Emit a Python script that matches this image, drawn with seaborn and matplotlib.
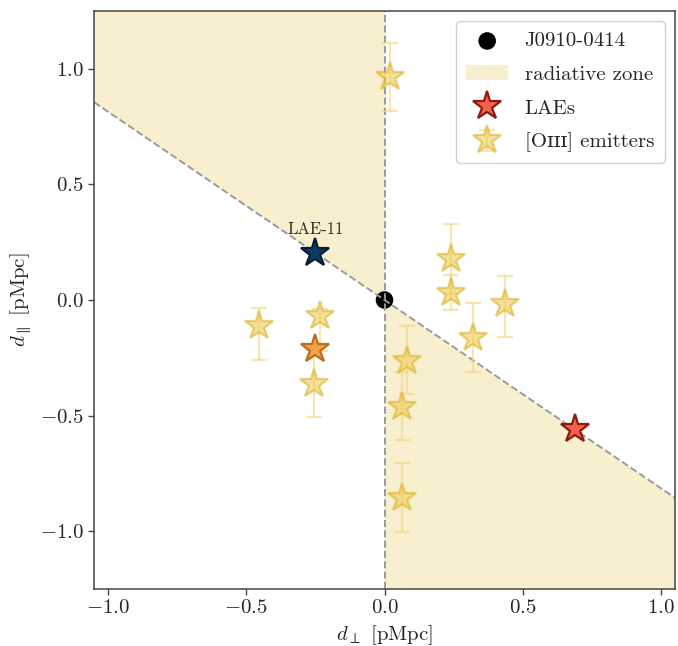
import matplotlib
matplotlib.use("Agg")
import matplotlib.pyplot as plt
import seaborn as sns
import numpy as np
import pandas as pd

# [OIII] emitters: projected offsets (pMpc) and line-of-sight errors
oiii_x = [0.021, -0.455, -0.232, -0.256, 0.24, 0.24, 0.434, 0.32, 0.082, 0.065, 0.065]
oiii_y = [0.964, -0.113, -0.07, -0.365, 0.176, 0.032, -0.016, -0.166, -0.264, -0.463, -0.858]
oiii_err_lo = [0.145, 0.146, 0.15, 0.143, 0.15, 0.074, 0.144, 0.145, 0.142, 0.144, 0.145]
oiii_err_hi = [0.147, 0.078, 0.03, 0.15, 0.153, 0.075, 0.121, 0.151, 0.151, 0.15, 0.153]

# LAEs
lae_x = [-0.25, -0.25, 0.69]
lae_y = [0.204, -0.213, -0.56]
lae_face = ["#0d3b66", "#f4a04a", "#f4604a"]
lae_edge = ["#061d33", "#b8701c", "#8c1c10"]
lae_names = ["LAE-11", "", ""]

qso_name = "J0910-0414"
oiii_name = "[O\u026a\u026a\u026a] emitters"
slope = -0.815

sns.set_style("ticks")
plt.rcParams["font.family"] = ["cmr10", "DejaVu Serif"]
plt.rcParams["mathtext.fontset"] = "cm"
plt.rcParams["axes.formatter.use_mathtext"] = True
plt.rcParams["axes.unicode_minus"] = True

fig = plt.figure(figsize=(6.78, 6.46), dpi=100)
ax = fig.add_axes([94 / 678, 57 / 646, 581 / 678, 578 / 646])

xlim = (-1.05, 1.05)
ylim = (-1.25, 1.25)

# radiative zone
xl = np.array([xlim[0], 0.0])
xr = np.array([0.0, xlim[1]])
ax.fill_between(xl, slope * xl, ylim[1], color="#ecd278", alpha=0.35, lw=0, zorder=0,
                label="radiative zone")
ax.fill_between(xr, ylim[0], slope * xr, color="#ecd278", alpha=0.35, lw=0, zorder=0)

# quasar (below the dashed lines)
sns.scatterplot(x=[0.0], y=[0.0], color="black", s=160, edgecolor="none", zorder=1,
                label=qso_name, ax=ax)

xx = np.array(xlim)
ax.plot(xx, slope * xx, ls="--", color="#9a9a9a", lw=1.4, zorder=2)
ax.axvline(0, ls="--", color="#9a9a9a", lw=1.4, zorder=2)

# [OIII] emitters
ax.errorbar(oiii_x, oiii_y, yerr=[oiii_err_lo, oiii_err_hi], fmt="*", ms=21, mfc="#efcc58",
            mec="#dcb32c", mew=1.6, ecolor="#f2d67a", elinewidth=1.6, capsize=6,
            capthick=1.6, alpha=0.6, zorder=3, label=oiii_name)

# LAEs
lae_df = pd.DataFrame({"x": lae_x, "y": lae_y})
for i in range(len(lae_x)):
    ax.plot(lae_df.x[i], lae_df.y[i], marker="*", ms=21, mfc=lae_face[i], mec=lae_edge[i],
            mew=1.6, ls="none", zorder=4)
    if lae_names[i]:
        ax.text(lae_df.x[i], lae_df.y[i] + 0.07, lae_names[i], ha="center", va="bottom",
                fontsize=12, zorder=5)
ax.plot([], [], marker="*", ms=21, mfc="#f4604a", mec="#8c1c10", mew=1.6,
        ls="none", label="LAEs")

ax.set_xlim(*xlim)
ax.set_ylim(*ylim)
ax.set_xticks([-1.0, -0.5, 0.0, 0.5, 1.0])
ax.set_yticks([-1.0, -0.5, 0.0, 0.5, 1.0])
ax.set_xlabel(r"$d_\perp$ [pMpc]", fontsize=15)
ax.set_ylabel(r"$d_\parallel$ [pMpc]", fontsize=15)
ax.tick_params(labelsize=15, direction="out", length=4, width=1, color="#444444")
for sp in ax.spines.values():
    sp.set_color("#444444")
    sp.set_linewidth(1.1)
    sp.set_visible(True)

handles, labels = ax.get_legend_handles_labels()
order = [qso_name, "radiative zone", "LAEs", oiii_name]
hmap = dict(zip(labels, handles))
ax.legend([hmap[k] for k in order], order, loc="upper right", fontsize=15, framealpha=0.9,
          borderpad=0.5, labelspacing=0.72, handletextpad=0.8)

fig.savefig("out.png", dpi=100)
